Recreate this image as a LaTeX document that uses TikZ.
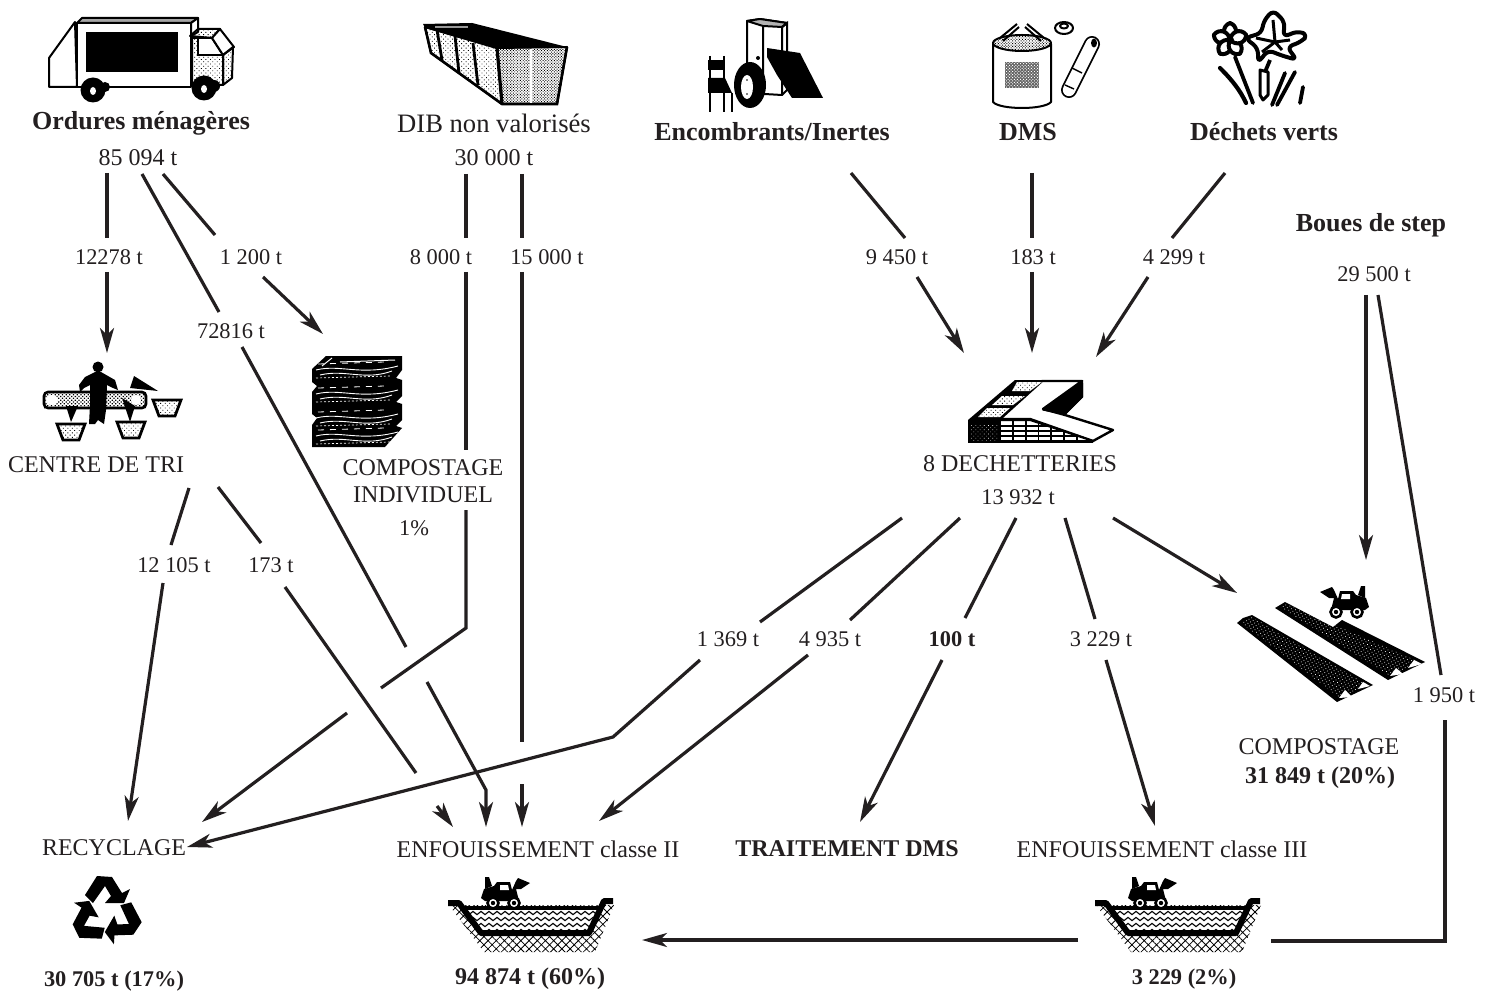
\documentclass[tikz,border=0pt]{standalone}
\usepackage{fontspec}
\setmainfont{Liberation Serif}
\usetikzlibrary{arrows.meta,patterns.meta,decorations.pathmorphing}
\definecolor{ink}{HTML}{231F20}
\tikzset{
  labb/.style={inner sep=0pt,text=ink,font=\fontsize{13}{15}\selectfont\bfseries,align=center},
  labbig/.style={inner sep=0pt,text=ink,font=\fontsize{13.3}{15}\selectfont},
  lab/.style={inner sep=0pt,text=ink,font=\fontsize{12}{13.5}\selectfont,align=center},
  labs/.style={inner sep=0pt,text=ink,font=\fontsize{12}{14}\selectfont\bfseries},
  numl/.style={inner sep=0pt,text=ink,font=\fontsize{12}{14}\selectfont},
  num/.style={inner sep=0pt,text=ink,font=\fontsize{11.2}{14}\selectfont},
  numb/.style={inner sep=0pt,text=ink,font=\fontsize{11.2}{14}\selectfont\bfseries},
  seg/.style={draw=ink,line width=1.6pt,line join=miter},
  arr/.style={seg,-{Stealth[length=12.5pt,width=7pt,inset=3.5pt]}},
  ic/.style={draw=black,line width=1pt,line join=round,fill=white},
  dotf/.style={pattern={Dots[radius=.3pt,distance=1.6pt,angle=45]},pattern color=black},
  dense/.style={pattern={Dots[radius=.33pt,distance=1pt,angle=45]},pattern color=black},
}
\newcommand\tractorIcon{%
  \fill[black] (-22,5)--(-19,-4)--(-9,-7)--(-6,-11)--(7,-11)--(9,-3)--(13,-12)--(15,-15)--(27,-10)--(18,-4)--(13,-4)--(16,8)--(-18,8)--cycle;
  \fill[white] (-3,-8)--(5,-8)--(6,-3)--(-3,-3)--cycle;
  \fill[black] (-18,-4)--(-18,-16)--(-14,-16)--(-11,-7)--cycle;
  \draw[black,fill=white,line width=1.3pt] (-10,10) circle (5.5);
  \draw[black,fill=white,line width=1.3pt] (11,10) circle (5.5);
  \fill[black] (-10,10) circle (2.2) (11,10) circle (2.2);
}
\newcommand\landfillIcon{%
  \begin{scope}
  \clip (449,905)--(484,952)--(595,952)--(614,905)--cycle;
  \fill[pattern={Hatch[angle=45,distance=2.9pt,line width=.4pt]},pattern color=black] (440,900) rectangle (620,955);
  \end{scope}
  \fill[white] (460,907)--(483,934)--(587,934)--(601,907)--cycle;
  \begin{scope}
  \clip (460,907)--(483,934)--(587,934)--(601,907)--cycle;
  \foreach \yy in {913,919,925,931}{
    \draw[black,line width=.55pt,decorate,decoration={zigzag,amplitude=.8pt,segment length=4pt}]
      (455,\yy)--(605,\yy);}
  \end{scope}
  \draw[black,line width=1.6pt] (462,908)--(600,908);
  \draw[black,line width=3pt,line join=round] (448,903)--(459,903)--(481,933)--(589,933)--(604,901)--(613,901);
}
\begin{document}
\begin{tikzpicture}[x=.5pt,y=-.5pt]
\useasboundingbox (0,0) rectangle (1491,994);
\fill[white] (0,0) rectangle (1491,994);

% ---------- truck
\draw[ic] (49,58)--(75,22)--(77,87)--(49,87)--cycle;
\draw[ic] (77,23)--(191,23)--(191,87)--(77,87)--cycle;
\draw[ic,fill=black!35] (77,23)--(82,18)--(198,18)--(191,23)--cycle;
\draw[ic] (191,23)--(198,18)--(198,32)--(191,36)--cycle;
\fill[black] (86,32) rectangle (178,72);
\draw[ic] (192,38)--(198,38)--(212,38)--(223,55)--(223,85)--(192,85)--cycle;
\draw[dotf,draw=none] (192,38)--(198,38)--(198,55)--(223,55)--(223,85)--(192,85)--cycle;
\draw[ic,dotf] (190,36)--(198,29)--(220,29)--(212,38)--cycle;
\draw[ic] (212,38)--(220,29)--(234,47)--(223,55)--cycle;
\draw[ic,dotf] (223,55)--(233,47)--(232,78)--(223,85)--cycle;
\draw[black,line width=1pt] (198,38)--(198,55)--(223,55);
\fill[black] (93,90) circle (12.5);
\fill[black] (105,87) circle (5);
\fill[black] (204,88) circle (12.5);
\fill[black] (214,86) circle (6);
\fill[white] (93,91) ellipse (3 and 4);
\fill[white] (204,89) ellipse (3 and 4);

% ---------- container
\draw[ic,dotf] (425,27)--(497,48)--(502,104)--(431,53)--cycle;
\draw[ic,dense] (497,48)--(567,47)--(557,104)--(502,104)--cycle;
\fill[black] (423,24)--(472,23)--(567,47)--(497,49)--(425,28)--cycle;
\fill[white,opacity=.6] (435,26) rectangle (468,28);
\draw[black,line width=1.3pt] (425,27)--(431,53)--(502,104)--(557,104)--(567,47);
\draw[black,line width=1.4pt] (437,30)--(442,60) (455,36)--(459,73) (473,43)--(478,85);
\draw[white,line width=.8pt] (531,49)--(531,103);
\draw[black,line width=1.6pt] (497,48)--(502,104);

% ---------- encombrants
\draw[ic] (747,21)--(760,19)--(787,23)--(782,27)--(782,95)--(747,93)--cycle;
\draw[ic,fill=black!30] (747,21)--(760,19)--(787,23)--(782,27)--(763,26)--cycle;
\draw[black,line width=1pt] (763,26)--(763,93) (782,27)--(787,23)--(787,90)--(782,95);
\fill[black] (758,58) circle (2);
\draw[black,line width=1pt] (710,56)--(710,112) (724,56)--(724,112) (732,93)--(732,112);
\fill[black] (708,60) rectangle (725,70);
\fill[black] (708,78)--(725,78)--(732,93)--(708,93)--cycle;
\fill[black] (767,48)--(800,53)--(823,98)--(792,98)--(777,75)--(767,57)--cycle;
\fill[black] (750,85) ellipse (16 and 23);
\fill[white] (747,87) ellipse (6 and 12);
\fill[black] (747,80) circle (.8) (747,94) circle (.8);

% ---------- DMS
\draw[ic] (993,44) -- (993,102) .. controls (1000,110) and (1044,110) .. (1051,102) -- (1051,44);
\draw[ic,dense] (1022,43) ellipse (29 and 8);
\fill[black!60] (1005,62) rectangle (1039,88);
\fill[pattern={Dots[radius=.35pt,distance=1.1pt,angle=45]},pattern color=white] (1005,62) rectangle (1039,88);
\draw[black,line width=1pt] (1000,38)--(1017,24) (1003,41)--(1019,27) (1044,38)--(1027,24) (1041,41)--(1025,27);
\draw[ic] (1064,28) ellipse (9 and 6);
\draw[ic] (1064,26) ellipse (4 and 2.5);
\draw[black,line width=8pt,line cap=round] (1092,44)--(1069,90);
\draw[white,line width=6.2pt,line cap=round] (1092,44)--(1069,90);
\fill[black] (1094,43) ellipse (3 and 4.5);
\draw[black,line width=.7pt] (1072,68)--(1082,73) (1065,85)--(1074,89);

% ---------- flowers
\foreach \aa in {0,72,144,216,288}{
  \draw[ic,line width=2pt,shift={(1230,40)},rotate=\aa] (0,0) .. controls (-8,-4) and (-8,-14) .. (0,-17) .. controls (8,-14) and (8,-4) .. (0,0);
}
\fill[black] (1230,40) circle (4);
\draw[ic,line width=2pt,rounded corners=3pt] (1273,10)--(1285,22)--(1283,37)--(1298,31)--(1308,35)--(1301,42)--(1287,47)--(1297,60)--(1280,55)--(1268,50)--(1258,63)--(1258,48)--(1245,38)--(1262,33)--(1263,22)--cycle;
\draw[black,line width=1.5pt] (1273,20)--(1275,42)--(1290,40) (1275,42)--(1262,52) (1256,38)--(1275,42)--(1282,50);
\draw[black,line width=1.9pt,line cap=round] (1235,57)--(1253,103);
\draw[black,line width=2.1pt,line cap=round] (1220,68) .. controls (1232,80) and (1240,90) .. (1246,103);
\draw[black,line width=1.9pt] (1270,60)--(1265,72);
\draw[ic,line width=1.5pt] (1260,70)--(1268,72)--(1268,95)--(1263,100)--(1260,95)--cycle;
\draw[black,line width=1.9pt,line cap=round] (1285,73)--(1272,105) (1295,72)--(1277,105) (1303,87)--(1300,103);

% ---------- centre de tri
\fill[pattern={Dots[radius=.45pt,distance=1.3pt,angle=45]},pattern color=black] (44,392) rectangle (146,408);
\draw[black,line width=1.3pt,rounded corners=2pt] (44,392) rectangle (146,408);
\fill[white] (52,400) ellipse (6 and 5);
\fill[white] (136,400) ellipse (5 and 5);
\fill[black] (98,367) circle (5.5);
\fill[black] (95,372)--(101,372)--(115,380)--(118,390)--(113,388)--(107,385)--(106,410)--(104,424)--(98,420)--(95,424)--(89,424)--(90,405)--(90,385)--(84,388)--(80,392)--(79,385)--(85,377)--cycle;
\fill[black] (66,406)--(78,406)--(71,422)--cycle;
\fill[black] (122,398)--(135,406)--(130,422)--cycle;
\fill[black] (130,388)--(158,391)--(134,376)--cycle;
\foreach \bx/\by in {57/424,117/422,153/400}{
  \draw[black,line width=1.4pt,dotf] (\bx,\by)--(\bx+28,\by)--(\bx+22,\by+16)--(\bx+6,\by+16)--cycle;
}

% ---------- compost stack
\fill[black] (312,369)--(326,356)--(402,356)--(402,370)--(396,378)--(402,380)--(402,396)--(396,402)--(402,404)--(402,420)--(396,426)--(402,428)--(385,447)--(312,447)--(312,425)--(317,418)--(312,414)--(312,392)--(317,386)--(312,382)--cycle;
\foreach \yy in {370,394,418,436}{
  \draw[white,line width=.45pt] (316,\yy) .. controls (340,\yy-6) and (360,\yy+6) .. (398,\yy-4);
  \draw[white,line width=.45pt] (320,\yy+5) .. controls (345,\yy-1) and (365,\yy+11) .. (392,\yy+1);
  \draw[white,line width=.4pt,dashed] (318,\yy-6)--(385,\yy-8);
  \draw[white,line width=.35pt,dash pattern=on 1pt off 1pt] (316,\yy+8)--(390,\yy+6);
}
\draw[white,line width=.5pt] (322,366)--(332,358) (340,362)--(395,360);

% ---------- dechetterie
\fill[black] (968,420)--(1015,380)--(1083,380)--(1083,397)--(1065,415)--(1043,408)--(1000,420)--cycle;
\draw[ic,line width=1.2pt] (1042,381)--(1082,381)--(1043,409)--(1065,415)--(1113,430)--(1093,441)--(1030,419)--(1000,419)--cycle;
\draw[black,line width=1pt,dotf] (1045,410)--(1082,385)--(1082,397)--(1065,414)--cycle;
\foreach \pp in {{(1017,382)--(1042,382)--(1030,391)--(1012,391)},{(1002,396)--(1025,396)--(1013,405)--(992,405)},{(987,408)--(1010,408)--(1000,417)--(978,417)}}{
  \fill[white] \pp--cycle;
  \fill[dotf] \pp--cycle;
}
\begin{scope}
\clip (1000,420)--(1030,420)--(1093,441)--(1093,443)--(1000,443)--cycle;
\fill[black] (1000,419) rectangle (1095,443);
\foreach \yy in {423,428.2,433.4,438.6}{
  \draw[white,line width=1.7pt,dash pattern=on 5.5pt off .9pt] (1001,\yy)--(1095,\yy);
}
\end{scope}
\draw[black,line width=1pt] (1000,420)--(1030,420)--(1093,441);
\fill[black] (968,420) rectangle (1000,443);
\fill[pattern={Dots[radius=.22pt,distance=1.5pt,angle=45]},pattern color=white] (970,424) rectangle (997,441);

% ---------- compost rows
\fill[black] (1237,623)--(1243,618)--(1252,615)--(1373,685)--(1337,702)--cycle;
\fill[pattern={Dots[radius=.25pt,distance=1.5pt,angle=30]},pattern color=white] (1240,622)--(1252,617)--(1368,685)--(1340,698)--cycle;
\fill[black] (1275,608)--(1285,602)--(1333,627)--(1342,620)--(1425,662)--(1388,680)--cycle;
\fill[pattern={Dots[radius=.25pt,distance=1.5pt,angle=30]},pattern color=white] (1280,607)--(1287,604)--(1420,662)--(1390,676)--cycle;
\fill[white] (1339,698)--(1345,690)--(1352,697)--cycle (1358,689)--(1363,682)--(1370,686)--cycle (1390,676)--(1396,668)--(1403,674)--cycle (1408,668)--(1414,660)--(1422,664)--cycle;
\begin{scope}[shift={(1347,602)},xscale=-1,yscale=1]\tractorIcon\end{scope}

% ---------- landfills
\landfillIcon
\begin{scope}[shift={(503,893)}]\tractorIcon\end{scope}
\begin{scope}[shift={(647,0)}]\landfillIcon\end{scope}
\begin{scope}[shift={(1150,893)}]\tractorIcon\end{scope}

% ---------- recycling
\foreach \aa in {0,120,240}{
  \fill[black,rotate around={\aa:(106,912)}] (85,895)--(97,876)--(112,877)--(122,893)--(130,889)--(124,903)--(105,903)--(111,896)--(105,886)--(93,903)--cycle;
}

% ---------- labels
\node[labb] (om) at (141,123) {Ordures ménagères};
\node[numl] (omt) at (138,158) {85 094 t};
\node[labbig] (dib) at (494,123) {DIB non valorisés};
\node[numl] (dibt) at (494,158) {30 000 t};
\node[labb] (enc) at (772,132) {Encombrants/Inertes};
\node[labb] (dms) at (1028,132) {DMS};
\node[labb] (dv) at (1264,132) {Déchets verts};
\node[labb] (bou) at (1371,225) {Boues de step};
\node[num] (bout) at (1374,274) {29 500 t};
\node[num] (n1) at (109,257) {12278 t};
\node[num] (n2) at (251,257) {1 200 t};
\node[num] (n3) at (231,331) {72816 t};
\node[num] (n4) at (441,257) {8 000 t};
\node[num] (n5) at (547,257) {15 000 t};
\node[num] (n6) at (897,257) {9 450 t};
\node[num] (n7) at (1033,257) {183 t};
\node[num] (n8) at (1174,257) {4 299 t};
\node[lab] (ctri) at (96,465) {CENTRE DE TRI};
\node[lab] (ci) at (423,481) {COMPOSTAGE\\INDIVIDUEL};
\node[num] (cip) at (414,528) {1\%};
\node[lab] (dech) at (1020,464) {8 DECHETTERIES};
\node[num] (decht) at (1018,497) {13 932 t};
\node[num] (n9) at (174,565) {12 105 t};
\node[num] (n10) at (271,565) {173 t};
\node[num] (n11) at (728,639) {1 369 t};
\node[num] (n12) at (830,639) {4 935 t};
\node[numb] (n13) at (952,639) {100 t};
\node[num] (n14) at (1101,639) {3 229 t};
\node[num] (n15) at (1444,695) {1 950 t};
\node[lab] (comp) at (1319,747) {COMPOSTAGE};
\node[labs] (compt) at (1320,778) {31 849 t (20\%)};
\node[lab] (rec) at (114,848) {RECYCLAGE};
\node[lab] (enf2) at (538,849) {ENFOUISSEMENT classe II};
\node[labs] (tdms) at (847,849) {TRAITEMENT DMS};
\node[lab] (enf3) at (1162,849) {ENFOUISSEMENT classe III};
\node[numb] (rect) at (114,981) {30 705 t (17\%)};
\node[labs] (enf2t) at (530,979) {94 874 t (60\%)};
\node[numb] (enf3t) at (1184,979) {3 229 (2\%)};

% ---------- connector end points
\coordinate (a1) at (107,173); \coordinate (a2) at (107,238);
\coordinate (a3) at (107,272); \coordinate (a4) at (107,353);
\coordinate (b1) at (142,174); \coordinate (b2) at (219,312);
\coordinate (b3) at (242,347); \coordinate (b4) at (406,647);
\coordinate (b5) at (427,682); \coordinate (b6) at (486,790); \coordinate (b7) at (486,827);
\coordinate (c1) at (163,174); \coordinate (c2) at (215,235);
\coordinate (c3) at (263,277); \coordinate (c4) at (323,334);
\coordinate (d1) at (466,174); \coordinate (d2) at (466,238);
\coordinate (d3) at (466,272); \coordinate (d3b) at (466,450);
\coordinate (d3c) at (466,510); \coordinate (d4) at (466,628); \coordinate (d5) at (381,688);
\coordinate (d6) at (347,713); \coordinate (d7) at (202,822);
\coordinate (e1) at (522,174); \coordinate (e2) at (522,238);
\coordinate (e3) at (522,272); \coordinate (e4) at (522,742);
\coordinate (e5) at (522,784); \coordinate (e6) at (522,827);
\coordinate (f1) at (851,173); \coordinate (f2) at (905,238);
\coordinate (f3) at (917,277); \coordinate (f4) at (964,353);
\coordinate (g1) at (1032,173); \coordinate (g2) at (1032,238);
\coordinate (g3) at (1032,272); \coordinate (g4) at (1032,353);
\coordinate (h1) at (1225,173); \coordinate (h2) at (1172,238);
\coordinate (h3) at (1148,277); \coordinate (h4) at (1096,357);
\coordinate (i1) at (1366,295); \coordinate (i2) at (1366,560);
\coordinate (j1) at (1378,295); \coordinate (j2) at (1441,675);
\coordinate (j3) at (1445,720); \coordinate (j4) at (1445,941); \coordinate (j5) at (1271,941);
\coordinate (j6) at (1078,940); \coordinate (j7) at (642,940);
\coordinate (k1) at (189,488); \coordinate (k2) at (171,545);
\coordinate (k3) at (163,583); \coordinate (k4) at (128,821);
\coordinate (l1) at (218,487); \coordinate (l2) at (261,543);
\coordinate (l3) at (285,587); \coordinate (l4) at (416,773);
\coordinate (l5) at (437,806); \coordinate (l6) at (453,827);
\coordinate (m1) at (902,518); \coordinate (m2) at (760,622);
\coordinate (m3) at (700,660); \coordinate (m4) at (613,737); \coordinate (m5) at (187,847);
\coordinate (o1) at (960,518); \coordinate (o2) at (850,620);
\coordinate (o3) at (808,655); \coordinate (o4) at (599,821);
\coordinate (p1) at (1016,518); \coordinate (p2) at (965,618);
\coordinate (p3) at (942,660); \coordinate (p4) at (860,822);
\coordinate (q1) at (1065,518); \coordinate (q2) at (1095,619);
\coordinate (q3) at (1106,660); \coordinate (q4) at (1155,826);
\coordinate (r1) at (1113,518); \coordinate (r2) at (1237,593);

% ---------- connectors
\draw[seg] (a1)--(a2);  \draw[arr] (a3)--(a4);
\draw[seg] (b1)--(b2);  \draw[seg] (b3)--(b4);  \draw[arr] (b5)--(b6)--(b7);
\draw[seg] (c1)--(c2);  \draw[arr] (c3)--(c4);
\draw[seg] (d1)--(d2);  \draw[seg] (d3)--(d3b);  \draw[seg] (d3c)--(d4)--(d5);  \draw[arr] (d6)--(d7);
\draw[seg] (e1)--(e2);  \draw[seg] (e3)--(e4);  \draw[arr] (e5)--(e6);
\draw[seg] (f1)--(f2);  \draw[arr] (f3)--(f4);
\draw[seg] (g1)--(g2);  \draw[arr] (g3)--(g4);
\draw[seg] (h1)--(h2);  \draw[arr] (h3)--(h4);
\draw[arr] (i1)--(i2);
\draw[seg] (j1)--(j2);  \draw[seg] (j3)--(j4)--(j5);  \draw[arr] (j6)--(j7);
\draw[seg] (k1)--(k2);  \draw[arr] (k3)--(k4);
\draw[seg] (l1)--(l2);  \draw[seg] (l3)--(l4);  \draw[arr] (l5)--(l6);
\draw[seg] (m1)--(m2);  \draw[arr] (m3)--(m4)--(m5);
\draw[seg] (o1)--(o2);  \draw[arr] (o3)--(o4);
\draw[seg] (p1)--(p2);  \draw[arr] (p3)--(p4);
\draw[seg] (q1)--(q2);  \draw[arr] (q3)--(q4);
\draw[arr] (r1)--(r2);
\end{tikzpicture}
\end{document}
